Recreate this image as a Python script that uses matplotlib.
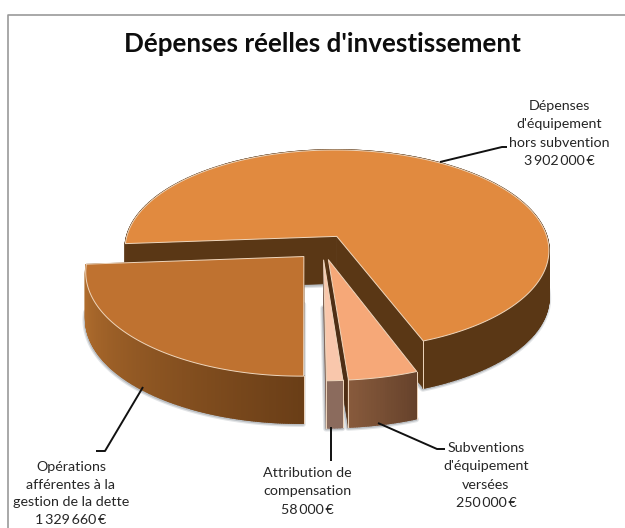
import numpy as np
import matplotlib
matplotlib.use("Agg")
import matplotlib.pyplot as plt
from matplotlib.colors import to_rgb
from matplotlib.patches import Polygon

# Budget lines, in euros, clockwise from the main slice
names = [
    "Dépenses\nd'équipement\nhors subvention",
    "Subventions\nd'équipement\nversées",
    "Attribution de\ncompensation",
    "Opérations\nafférentes à la\ngestion de la dette",
]
values = [3902000, 250000, 58000, 1329660]

# Slice colours: top face, then outer wall from its first to its last angle
top_colors = ["#e18a3f", "#f6a878", "#f9c7ac", "#bf7230"]
wall_start = ["#5c3817", "#66422b", "#8b6b5d", "#6a3e17"]
wall_end = ["#5a3715", "#875a3c", "#8b6b5d", "#b87230"]
side_colors = ["#5a3715", "#4e2e15", "#7d5f52", "#6a3e17"]

# Perspective of the disc, in pixels
CX, CY = 322.4, 247.0
RX, RY = 213.0, 100.7
K = 0.1347
DEPTH = 47.0
EXPLODE = 0.127
START = 265.8

EDGE = "#efd6bc"
SHADOW = "#aeb3b8"


def project(u, v):
    w = 1 - K * v
    return CX + RX * u / w, CY + RY * v / w


def mix(c0, c1, t):
    a, b = np.array(to_rgb(c0)), np.array(to_rgb(c1))
    return tuple(a + (b - a) * t)


plt.rcParams["font.family"] = ["Lato", "DejaVu Sans"]
fig = plt.figure(figsize=(6.25, 5.28), dpi=100)
ax = fig.add_axes([0, 0, 1, 1])
ax.set_xlim(0, 625)
ax.set_ylim(528, 0)
ax.axis("off")

# Outer frame of the chart area, open on the right and at the bottom
ax.plot([7.5, 7.5, 625], [528, 14.5, 14.5], color="#9a9a9a", lw=1.2, zorder=1)


def draw_slice(i, a0, a1, z):
    mid = np.radians((a0 + a1) / 2)
    ox, oy = EXPLODE * np.sin(mid), -EXPLODE * np.cos(mid)
    th = np.radians(np.linspace(a0, a1, max(int((a1 - a0) * 2), 3)))
    us, vs = ox + np.sin(th), oy - np.cos(th)
    ax_x, ax_y = project(us, vs)
    apex = project(ox, oy)
    top = np.vstack([[apex], np.column_stack([ax_x, ax_y])])
    down = np.array([0, DEPTH])

    # Soft outline of the underside
    for lw, alpha in [(4.0, 0.35), (2.2, 0.7)]:
        ax.add_patch(Polygon(top + down + [-0.5, 1], closed=True, fc=SHADOW, ec=SHADOW,
                             lw=lw, alpha=alpha, zorder=z, joinstyle="round"))

    # Walls are stacked from the back of the scene to the front
    quads = []
    for end in (top[1], top[-1]):
        quad = [top[0], end, end + down, top[0] + down]
        quads.append((min(quad[0][1], quad[1][1]), quad, side_colors[i], 0.5))
    n = len(ax_x) - 1
    for j in range(n):
        p, q = np.array([ax_x[j], ax_y[j]]), np.array([ax_x[j + 1], ax_y[j + 1]])
        colour = mix(wall_start[i], wall_end[i], j / max(n - 1, 1))
        quads.append(((p[1] + q[1]) / 2, [p, q, q + down, p + down], colour, 1.2))
    for _, quad, colour, width in sorted(quads, key=lambda item: item[0]):
        ax.add_patch(Polygon(quad, closed=True, fc=colour, ec=colour, lw=width, zorder=z + 1))

    # Pale vertical seams, only at corners facing the front
    for end, v in ((top[1], vs[0]), (top[-1], vs[-1])):
        if v > 0.5:
            ax.plot([end[0], end[0]], [end[1], end[1] + DEPTH], color=EDGE, lw=0.7, zorder=z + 1.5)

    ax.add_patch(Polygon(top, closed=True, fc=top_colors[i], ec=EDGE, lw=0.7,
                         joinstyle="round", zorder=z + 2))


# Slice spans in degrees, clockwise from twelve o'clock
spans = np.array(values, dtype=float) / sum(values) * 360
starts = START + np.concatenate([[0], np.cumsum(spans)[:-1]])
order = {0: 10, 3: 20, 1: 30, 2: 40}
for idx, z in order.items():
    draw_slice(idx, starts[idx], starts[idx] + spans[idx], z)

# Title
ax.text(322.5, 44, "Dépenses réelles d'investissement", ha="center", va="center",
        fontsize=18.7, fontweight="bold", color="#0d0d0d", zorder=60)


def money(v):
    return f"{v:,}".replace(",", "\u2009") + "\u2009€"


# Labels (centre, first baseline, line step) and their leader lines
label_xy = [(559, 110, 18.4), (486, 452, 18.4), (307, 477, 18.4), (71, 471, 17.6)]
leaders = [
    ([440, 502, 507], [162, 147, 147]),
    ([378, 437, 445], [423, 449, 449]),
    ([331, 331], [427, 461]),
    ([143, 105, 96], [387, 451, 451]),
]
for name, v, (x, y, step), (lx, ly) in zip(names, values, label_xy, leaders):
    ax.plot(lx, ly, color="#111111", lw=1.4, zorder=55, solid_capstyle="butt")
    for k, line in enumerate((name + "\n" + money(v)).split("\n")):
        ax.text(x, y + k * step, line, ha="center", va="baseline", fontsize=10.3,
                color="#262626", zorder=60)

fig.savefig("out.png", dpi=100)
